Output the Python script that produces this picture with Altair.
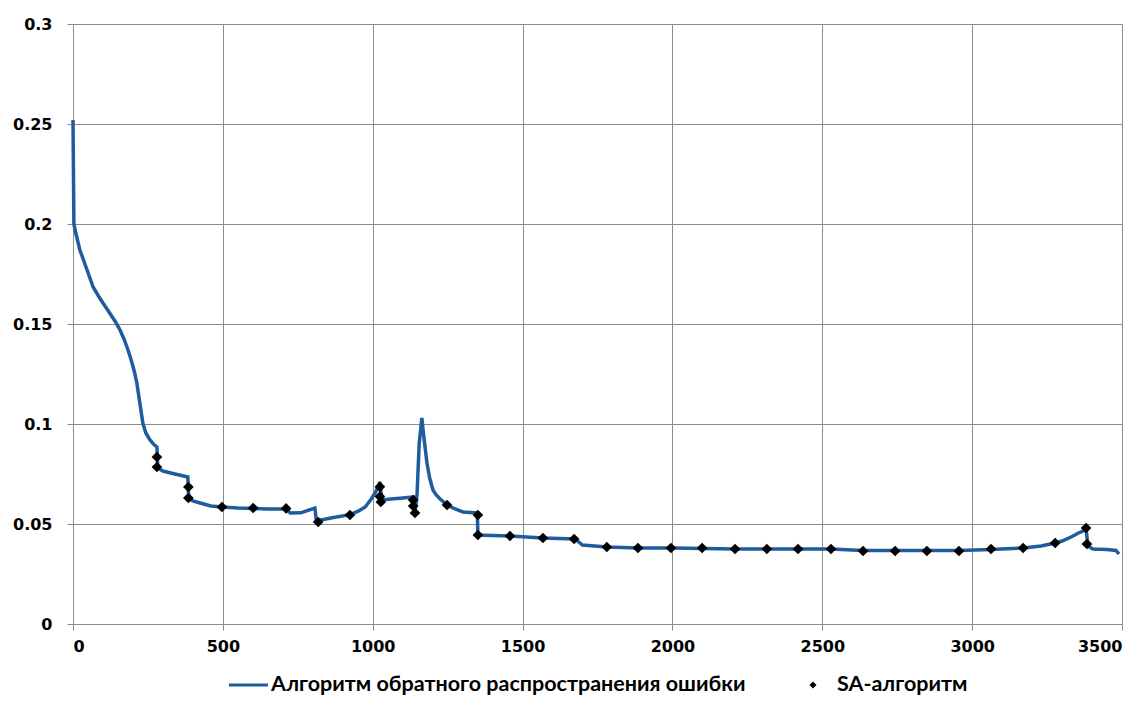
import altair as alt
import pandas as pd

# Backpropagation error curve (iterations, error)
line_x = [0, 3, 10, 23, 35, 47, 67, 85, 100, 120, 140, 157, 170, 180, 190, 197, 205, 213,
          223, 233, 243, 257, 270, 280, 283,
          300, 340, 383, 386, 400, 424, 460, 497, 550, 601, 650, 711, 725, 760, 807, 812,
          860, 924, 950, 975, 995, 1010, 1024, 1030, 1060, 1100, 1135, 1141, 1148, 1155,
          1164, 1168, 1175, 1181, 1190, 1201, 1212, 1225, 1248, 1275, 1301, 1349, 1351,
          1400, 1458, 1568, 1675, 1700,
          1781, 1885, 2000, 2209, 2529, 2636, 2956, 3063, 3170, 3230, 3277, 3300, 3330,
          3355, 3370, 3380, 3386, 3403, 3450, 3480, 3490]
line_y = [0.252, 0.2, 0.195, 0.187, 0.182, 0.177, 0.1685, 0.164, 0.1605, 0.156, 0.1515,
          0.147, 0.1425, 0.1385, 0.134, 0.1305, 0.126, 0.1205,
          0.1105, 0.1005, 0.0955, 0.092, 0.0897, 0.0885, 0.078,
          0.0765, 0.075, 0.0735, 0.063, 0.0615, 0.0605, 0.059, 0.0585, 0.058, 0.0578,
          0.0575, 0.0575, 0.0555, 0.0556, 0.058, 0.0515,
          0.053, 0.0547, 0.0563, 0.0585, 0.0625, 0.066, 0.071, 0.062, 0.0625, 0.063,
          0.0635, 0.0555, 0.065, 0.09,
          0.103, 0.097, 0.088, 0.0805, 0.073, 0.067, 0.0645, 0.0625, 0.0595, 0.0575,
          0.056, 0.0555, 0.0445,
          0.0443, 0.044, 0.043, 0.0425, 0.0395,
          0.0385, 0.038, 0.038, 0.0375, 0.0375, 0.0368, 0.0368, 0.0372, 0.038, 0.039,
          0.0405, 0.0415, 0.0435,
          0.0455, 0.0465, 0.048, 0.039, 0.0375, 0.0372, 0.0368, 0.035]

# SA-algorithm points
sa_x = [280, 280, 385, 385, 497, 601, 711, 818, 924, 1024, 1024, 1027, 1135, 1135, 1141,
        1248, 1351, 1351, 1458, 1568, 1672, 1781, 1885, 1995, 2099, 2209, 2315, 2419,
        2529, 2636, 2743, 2849, 2956, 3063, 3170, 3277, 3380, 3383]
sa_y = [0.0835, 0.0785, 0.0685, 0.063, 0.0585, 0.058, 0.0578, 0.051, 0.0545, 0.0686,
        0.0637, 0.061, 0.062, 0.059, 0.0555, 0.0595, 0.0545, 0.0445, 0.044, 0.043,
        0.0425, 0.0385, 0.038, 0.038, 0.038, 0.0375, 0.0375, 0.0375, 0.0375, 0.0365,
        0.0365, 0.0365, 0.0365, 0.0375, 0.038, 0.0405, 0.048, 0.040]

x_ticks = [0, 500, 1000, 1500, 2000, 2500, 3000, 3500]
y_ticks = [0, 0.05, 0.1, 0.15, 0.2, 0.25, 0.3]

legend_labels = ["Алгоритм обратного распространения ошибки", "SA-алгоритм"]

LINE_COLOR = "#1f5c9e"
GRID = "#8c8c8c"

line_df = pd.DataFrame({"x": line_x, "y": line_y, "i": list(range(len(line_x)))})
sa_df = pd.DataFrame({"x": sa_x, "y": sa_y})

axis_common = dict(
    labelFont="DejaVu Sans", labelFontWeight="bold", labelFontSize=16, labelColor="black",
    gridColor=GRID, gridWidth=1, domainColor=GRID, tickColor=GRID, tickSize=6, title=None,
)

xs = alt.X("x:Q", scale=alt.Scale(domain=[0, 3500], nice=False),
           axis=alt.Axis(values=x_ticks, format="d", labelPadding=8, **axis_common))
ys = alt.Y("y:Q", scale=alt.Scale(domain=[0, 0.3], nice=False),
           axis=alt.Axis(values=y_ticks, format="~g", labelPadding=15, **axis_common))

line = alt.Chart(line_df).mark_line(color=LINE_COLOR, strokeWidth=3.5).encode(
    x=xs, y=ys, order=alt.Order("i:Q"))

pts = alt.Chart(sa_df).mark_point(shape="diamond", filled=True, color="black",
                                   size=115, opacity=1).encode(x="x:Q", y="y:Q")

one = pd.DataFrame({"a": [0]})
LY = 661
leg_line = alt.Chart(one).mark_rule(color=LINE_COLOR, strokeWidth=3).encode(
    x=alt.value(156), x2=alt.value(195), y=alt.value(LY))
leg_text1 = alt.Chart(one).mark_text(align="left", baseline="middle", font="Lato",
                                      fontSize=21.5, fontWeight="bold", color="black").encode(
    x=alt.value(198), y=alt.value(LY), text=alt.value(legend_labels[0]))
leg_pt = alt.Chart(one).mark_point(shape="diamond", filled=True, color="black",
                                    size=50, opacity=1).encode(
    x=alt.value(740), y=alt.value(LY))
leg_text2 = alt.Chart(one).mark_text(align="left", baseline="middle", font="Lato",
                                      fontSize=21.5, fontWeight="bold", color="black").encode(
    x=alt.value(764), y=alt.value(LY), text=alt.value(legend_labels[1]))

chart = alt.layer(line, pts, leg_line, leg_text1, leg_pt, leg_text2).properties(
    width=1049, height=600,
    autosize=alt.AutoSizeParams(type="none"),
    padding={"left": 65, "top": 16, "right": 17, "bottom": 80},
    background="white",
).configure_view(stroke=None)

chart.save("out.html", embed_options={"renderer": "svg", "actions": False})
